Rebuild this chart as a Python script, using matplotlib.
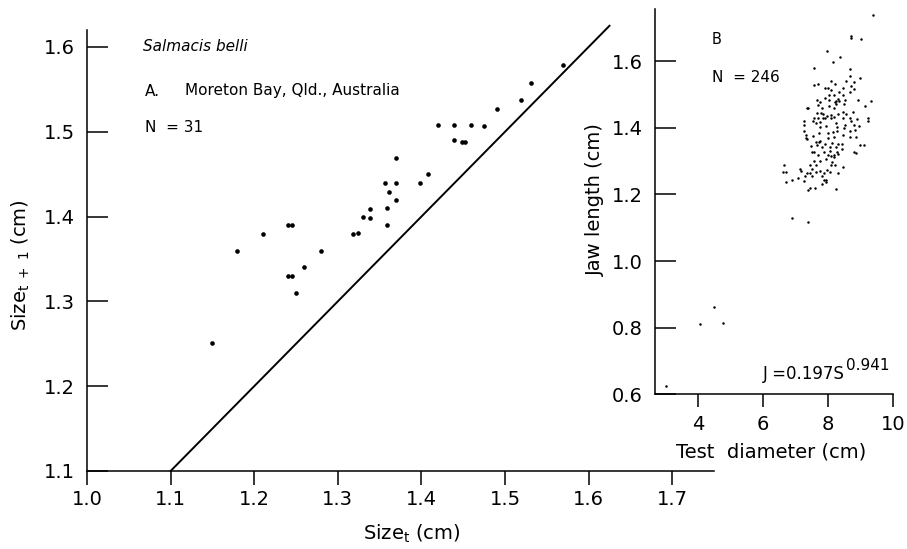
import numpy as np
import matplotlib
matplotlib.use("Agg")
import matplotlib.pyplot as plt

plt.rcParams['font.family'] = ['DejaVu Sans']
plt.rcParams['mathtext.fontset'] = 'dejavusans'

# --- Panel A: Salmacis belli, size at t vs size at t+1 ---
size_t = [1.15, 1.18, 1.21, 1.24, 1.245, 1.28, 1.26, 1.24, 1.245, 1.25,
          1.569, 1.531, 1.519, 1.491, 1.42, 1.439, 1.459, 1.475, 1.439, 1.449,
          1.452, 1.37, 1.408, 1.398, 1.356, 1.37, 1.361, 1.37, 1.339, 1.33,
          1.338, 1.359, 1.359, 1.318, 1.324]
size_t1 = [1.251, 1.36, 1.379, 1.39, 1.39, 1.36, 1.34, 1.33, 1.33, 1.31,
           1.579, 1.558, 1.538, 1.527, 1.508, 1.508, 1.508, 1.507, 1.49, 1.488,
           1.488, 1.469, 1.45, 1.44, 1.44, 1.44, 1.429, 1.42, 1.409, 1.40,
           1.398, 1.41, 1.39, 1.379, 1.381]
line_ends = [1.1, 1.625]   # 1:1 line

xticks_a = [1.0, 1.1, 1.2, 1.3, 1.4, 1.5, 1.6, 1.7]
yticks_a = [1.1, 1.2, 1.3, 1.4, 1.5, 1.6]

# --- Panel B: jaw length vs test diameter (N = 246) ---
test_diam = [
    9.39, 8.71, 8.71, 9.00, 7.95, 8.37, 8.15,
    7.55, 8.67, 8.67, 8.97, 8.09, 7.56, 7.68, 8.55, 8.78, 8.21, 8.70, 7.90, 7.98,
    8.09, 8.46, 8.80, 8.34, 8.67, 8.02, 8.17, 8.45, 7.90, 8.30, 8.25, 8.33, 7.66,
    8.02, 8.52, 8.91, 9.31, 7.34, 7.39, 7.76, 7.70, 8.04, 8.21, 8.25, 8.50, 9.13,
    7.80, 8.17, 8.45, 8.75, 7.66, 7.77, 7.84, 7.96, 8.09, 8.29, 8.54, 7.57, 7.68,
    7.84, 7.90, 8.09, 8.17, 8.45, 8.68, 8.88, 9.23,
    7.27, 7.27, 7.53, 7.63, 7.76, 7.76, 7.94, 8.23, 8.27, 8.52, 8.48, 8.70, 8.78,
    8.95, 9.21, 7.27, 7.33, 7.53, 7.72, 8.00, 8.15, 8.27, 8.45, 8.68, 8.82, 7.31,
    7.35, 7.98, 8.19, 8.68, 8.86, 7.63, 7.72, 7.76, 7.90, 8.13, 8.31, 7.47, 7.66,
    7.80, 8.06, 8.25, 8.41, 8.97, 9.09, 7.51, 7.57, 7.88, 8.06, 8.27, 8.41, 8.80,
    8.86, 7.70, 8.00, 8.09, 8.19, 8.17, 8.31, 7.57, 7.76, 7.94, 8.13, 7.43, 7.63,
    8.09, 8.21, 6.65, 7.12, 7.16, 7.51, 7.76, 7.96, 6.61, 6.69, 7.35, 7.43, 7.62,
    7.87, 8.06, 8.29, 8.45,
    6.71, 6.90, 7.08, 7.27, 7.29, 7.49, 7.80, 7.87, 7.92, 7.94, 7.80, 7.39, 7.45,
    7.59, 8.23, 6.90, 7.39,
    3.02, 4.06, 4.49, 4.77]
jaw_len = [
    1.738, 1.677, 1.669, 1.668, 1.630, 1.613, 1.598,
    1.579, 1.576, 1.557, 1.549, 1.541, 1.529, 1.531, 1.541, 1.537, 1.531, 1.527,
    1.519, 1.519, 1.515, 1.519, 1.517, 1.509, 1.509, 1.499, 1.499, 1.499, 1.491,
    1.487, 1.481, 1.482, 1.485, 1.485, 1.485, 1.483, 1.481, 1.459, 1.459, 1.477,
    1.469, 1.467, 1.477, 1.471, 1.473, 1.465, 1.459, 1.461, 1.449, 1.449, 1.445,
    1.445, 1.441, 1.437, 1.439, 1.443, 1.441, 1.431, 1.429, 1.429, 1.431, 1.431,
    1.433, 1.429, 1.431, 1.427, 1.429,
    1.420, 1.408, 1.420, 1.414, 1.418, 1.402, 1.406, 1.416, 1.404, 1.410, 1.400,
    1.420, 1.410, 1.406, 1.422, 1.390, 1.380, 1.376, 1.384, 1.386, 1.388, 1.390,
    1.380, 1.392, 1.394, 1.370, 1.366, 1.370, 1.372, 1.372, 1.373, 1.358, 1.359,
    1.361, 1.353, 1.355, 1.353, 1.345, 1.349, 1.342, 1.344, 1.342, 1.352, 1.348,
    1.349, 1.327, 1.327, 1.329, 1.331, 1.327, 1.336, 1.327, 1.325, 1.318, 1.320,
    1.316, 1.320, 1.312, 1.322, 1.300, 1.300, 1.306, 1.298, 1.289, 1.288, 1.288,
    1.288, 1.289, 1.277, 1.271, 1.277, 1.271, 1.274, 1.267, 1.267, 1.264, 1.265,
    1.267, 1.264, 1.267, 1.264, 1.282,
    1.238, 1.243, 1.249, 1.241, 1.256, 1.256, 1.256, 1.244, 1.243, 1.238, 1.231,
    1.214, 1.220, 1.220, 1.217, 1.130, 1.118,
    0.625, 0.811, 0.862, 0.814]

xticks_b = [4, 6, 8, 10]
yticks_b = [0.6, 0.8, 1.0, 1.2, 1.4, 1.6]

W, H = 907, 549
fig = plt.figure(figsize=(W / 100, H / 100), dpi=100)

# main panel
ax = fig.add_axes([87 / W, 78 / H, 627 / W, 441 / H])
ax.scatter(size_t, size_t1, s=11, c='black', linewidths=0, zorder=3)
ax.plot(line_ends, line_ends, color='black', lw=1.4, clip_on=False)
ax.set_xlim(1.0, 1.75)
ax.set_ylim(1.1, 1.62)
ax.set_xticks(xticks_a)
ax.set_xticklabels([f'{v:.1f}' for v in xticks_a])
ax.set_yticks(yticks_a)
ax.set_yticklabels([f'{v:.1f}' for v in yticks_a])
for s in ['top', 'right']:
    ax.spines[s].set_visible(False)
for s in ['left', 'bottom']:
    ax.spines[s].set_linewidth(1.1)
ax.tick_params(axis='y', direction='in', length=15, width=1.1, pad=8.5, labelsize=14)
ax.tick_params(axis='x', direction='out', length=10, width=1.1, pad=4, labelsize=14)
ax.set_xlabel(r'Size$_{\mathrm{t}}$ (cm)', fontsize=14, va='top')
ax.xaxis.set_label_coords(0.518, -0.117)
ax.set_ylabel(r'Size$_{\mathrm{t}\ +\ 1}$ (cm)', fontsize=14)
ax.yaxis.set_label_coords(-0.088, 0.467)

fig.text(143 / W, 1 - 47 / H, 'Salmacis belli', style='italic', fontsize=11, va='center')
fig.text(145 / W, 1 - 91 / H, 'A.', fontsize=11, va='center')
fig.text(185 / W, 1 - 91 / H, 'Moreton Bay, Qld., Australia', fontsize=11, va='center')
fig.text(145 / W, 1 - 128 / H, 'N  = 31', fontsize=11, va='center')

# inset panel B
axb = fig.add_axes([655 / W, (H - 394.3) / H, 238.3 / W, 385 / H])
axb.patch.set_alpha(0)
axb.scatter(test_diam, jaw_len, s=3.2, c='black', linewidths=0)
axb.set_xlim(2.68, 10)
axb.set_ylim(0.6, 1.756)
axb.set_xticks(xticks_b)
axb.set_yticks(yticks_b)
axb.set_yticklabels([f'{v:.1f}' for v in yticks_b])
for s in ['top', 'right']:
    axb.spines[s].set_visible(False)
for s in ['left', 'bottom']:
    axb.spines[s].set_linewidth(1.1)
axb.tick_params(axis='y', direction='in', length=15, width=1.1, pad=9, labelsize=14)
axb.tick_params(axis='x', direction='out', length=9.5, width=1.1, pad=5.5, labelsize=14)
axb.set_xlabel('Test  diameter (cm)', fontsize=14, va='top')
axb.xaxis.set_label_coords(0.487, -0.126)
axb.set_ylabel('Jaw length (cm)', fontsize=14)
axb.yaxis.set_label_coords(-0.21, 0.505)

fig.text(712 / W, 1 - 39 / H, 'B', fontsize=10.5, va='center')
fig.text(712 / W, 1 - 77 / H, 'N  = 246', fontsize=11, va='center')
fig.text(763 / W, 1 - 379 / H, 'J =0.197S', fontsize=12, va='baseline')
fig.text(846 / W, 1 - 370 / H, '0.941', fontsize=11, va='baseline')

fig.savefig('out.png', dpi=100)
